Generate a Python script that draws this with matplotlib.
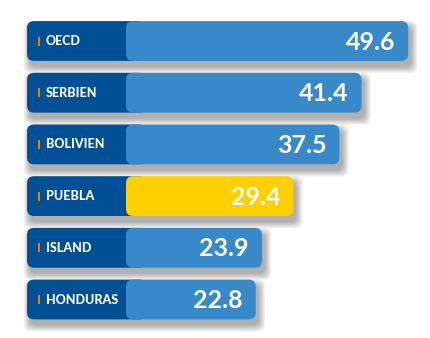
import matplotlib
matplotlib.use("Agg")
import matplotlib.pyplot as plt
from matplotlib.patches import FancyBboxPatch, Rectangle

labels = ["OECD", "SERBIEN", "BOLIVIEN", "PUEBLA", "ISLAND", "HONDURAS"]
values = [49.6, 41.4, 37.5, 29.4, 23.9, 22.8]
highlight = "PUEBLA"

dark = "#014f94"
light = "#3889c9"
yellow = "#ffd000"
orange = "#f07d00"

W, H = 430, 338
px_per_unit = 5.69        # horizontal scale: pixels per value unit
x0_px = 126               # where value 0 sits
row_px = 51.7             # row spacing in pixels
first_px = 41             # centre of first row
bar_h = 0.77              # in row units

fig = plt.figure(figsize=(W / 100, H / 100), dpi=100)
ax = fig.add_axes([0, 0, 1, 1])
ax.set_xlim(-x0_px / px_per_unit, (W - x0_px) / px_per_unit)
top = -first_px / row_px
ax.set_ylim(top + H / row_px, top)
ax.axis("off")

asp = px_per_unit / row_px   # makes corners circular
rad = 7 / px_per_unit
lbl_left = -99 / px_per_unit
lbl_right = 20 / px_per_unit

def rbox(x, y, w, h, color, z, alpha=1.0):
    p = FancyBboxPatch((x, y), w, h,
                       boxstyle=f"round,pad=0,rounding_size={rad}",
                       mutation_aspect=asp, fc=color, ec="none",
                       alpha=alpha, zorder=z)
    ax.add_patch(p)

for i, (lab, v) in enumerate(zip(labels, values)):
    y = i - bar_h / 2
    # soft drop shadow
    for k in range(8):
        g = k * 0.9 / px_per_unit
        rbox(lbl_left + 3 / px_per_unit - g, y + 6 / row_px - g * asp,
             v - lbl_left + 2 * g, bar_h + 2 * g * asp, "#000000", 1, alpha=0.045)
    rbox(lbl_left, y, lbl_right - lbl_left, bar_h, dark, 2)
    rbox(0, y, v, bar_h, yellow if lab == highlight else light, 3)
    ax.add_patch(Rectangle((-88 / px_per_unit, i - 4.5 / row_px), 2 / px_per_unit, 9 / row_px,
                           fc=orange, ec="none", zorder=4))
    ax.text(-80 / px_per_unit, i, lab, color="white", fontsize=9, fontweight="black",
            family="Lato", ha="left", va="center", zorder=5)
    ax.text(v - 13 / px_per_unit, i + 0.02, f"{v:.1f}", color="white", fontsize=18,
            fontweight="bold", family="Lato", ha="right", va="center", zorder=5)

fig.savefig("out.png", dpi=100, facecolor="white")
